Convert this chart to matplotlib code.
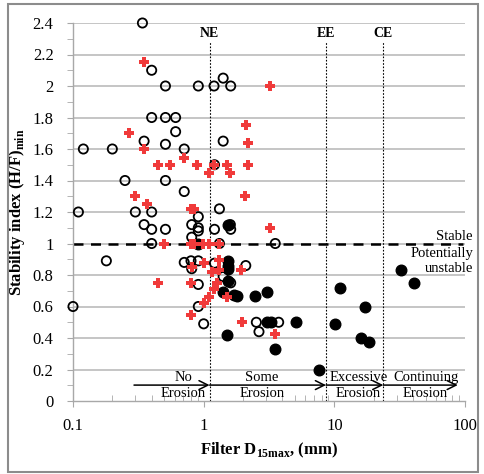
import matplotlib
matplotlib.use("Agg")
import matplotlib.pyplot as plt
from matplotlib.patches import Rectangle
from matplotlib.ticker import FixedLocator, LogLocator, NullFormatter, FuncFormatter

plt.rcParams['font.family'] = ['Liberation Serif', 'DejaVu Serif']
plt.rcParams['mathtext.fontset'] = 'custom'
plt.rcParams['mathtext.rm'] = 'Liberation Serif'
plt.rcParams['mathtext.bf'] = 'Liberation Serif:bold'

# ---- data ----
open_x = [0.34, 0.40, 0.51, 0.91, 1.20, 1.41, 1.61, 0.40, 0.51, 0.61, 0.61, 0.35, 1.41,
          0.12, 0.20, 0.51, 0.71, 1.21, 0.25, 0.51, 0.71, 0.11, 0.30, 0.40, 0.91, 1.32,
          0.35, 0.40, 0.51, 0.81, 0.91, 0.91, 1.21, 1.60, 1.61, 0.81, 0.40, 1.32, 3.53,
          0.18, 0.71, 0.80, 0.91, 0.81, 1.21, 2.10, 1.41, 1.61, 0.91, 0.10, 0.91, 1.00,
          2.53, 3.75, 2.65]
open_y = [2.40, 2.10, 2.00, 2.00, 2.00, 2.05, 2.00, 1.80, 1.80, 1.80, 1.71, 1.65, 1.65,
          1.60, 1.60, 1.63, 1.60, 1.50, 1.40, 1.40, 1.33, 1.20, 1.20, 1.20, 1.17, 1.22,
          1.12, 1.09, 1.09, 1.12, 1.10, 1.08, 1.09, 1.12, 1.09, 1.04, 1.00, 1.00, 1.00,
          0.89, 0.88, 0.89, 0.89, 0.84, 0.875, 0.86, 0.79, 0.75, 0.74, 0.60, 0.60, 0.49,
          0.50, 0.50, 0.44]

filled_x = [1.53, 0.91, 1.53, 1.53, 1.53, 1.53, 1.41, 1.71, 1.81, 2.45, 3.05, 3.05,
            3.27, 5.08, 1.52, 3.53, 7.62, 32.3, 40.5, 11.1, 17.2, 10.1, 16.1, 18.3]
filled_y = [1.12, 1.00, 0.89, 0.86, 0.84, 0.76, 0.695, 0.675, 0.667, 0.665, 0.69, 0.50,
            0.50, 0.50, 0.42, 0.33, 0.195, 0.83, 0.75, 0.72, 0.60, 0.49, 0.40, 0.375]

red_x = [0.35, 3.24, 2.10, 0.27, 2.19, 0.35, 0.71, 0.45, 0.55, 0.89, 1.20, 1.50, 2.19,
         1.10, 1.60, 2.09, 0.30, 0.37, 0.80, 0.85, 3.20, 0.50, 0.80, 0.85, 0.99, 1.10,
         1.30, 0.81, 1.00, 1.32, 1.15, 1.32, 1.93, 0.45, 0.80, 1.26, 1.20, 1.50, 1.10,
         1.00, 0.80, 1.95, 3.53]
red_y = [2.15, 2.00, 1.75, 1.70, 1.64, 1.60, 1.545, 1.50, 1.50, 1.50, 1.50, 1.50, 1.50,
         1.45, 1.45, 1.30, 1.30, 1.25, 1.22, 1.22, 1.10, 1.00, 1.00, 1.00, 1.00, 1.00,
         1.00, 0.85, 0.875, 0.897, 0.818, 0.83, 0.83, 0.75, 0.75, 0.75, 0.71, 0.663, 0.663,
         0.62, 0.545, 0.50, 0.425]

zone_names = ["NE", "EE", "CE"]
zone_x = [1.11, 8.63, 23.7]

arrow_starts = [0.293, 1.11, 8.63, 23.7]
arrow_ends = [1.11, 8.63, 23.7, 88.0]
arrow_top = ["No", "Some", "Excessive", "Continuing"]
arrow_bottom = ["Erosion", "Erosion", "Erosion", "Erosion"]
arrow_text_x = [0.70, 2.80, 15.3, 50.0]

y_ticks = [0, 0.2, 0.4, 0.6, 0.8, 1.0, 1.2, 1.4, 1.6, 1.8, 2.0, 2.2, 2.4]
x_ticks = [0.1, 1, 10, 100]

# ---- figure ----
fig = plt.figure(figsize=(4.84, 4.74), dpi=100)
ax = fig.add_axes([73/484, 1 - 401/474, 392/484, 378/474])

fig.patches.append(Rectangle((8/484, 2/474), 470/484, 468/474, transform=fig.transFigure,
                             fill=False, edgecolor='#8c8c8c', linewidth=1.5))

ax.set_xscale('log')
ax.set_xlim(0.1, 100)
ax.set_ylim(0, 2.4)

for yv in y_ticks[1:]:
    ax.axhline(yv, color='#b5b5b5', linewidth=1.1, zorder=0)

ax.axhline(1.0, xmin=0, xmax=0.995, color='black', linestyle=(0, (4, 3)), linewidth=1.8, zorder=1)

for name, xv in zip(zone_names, zone_x):
    ax.plot([xv, xv], [0, 2.285], color='black', linestyle=(0, (1.5, 1.5)), linewidth=0.8, zorder=1)
    ax.text(xv, 2.335, name, ha='center', va='center', fontsize=10, fontweight='bold')

ax.scatter(open_x, open_y, s=44, facecolors='none', edgecolors='black', linewidths=1.3,
           zorder=3, clip_on=False)
ax.scatter(filled_x, filled_y, s=58, color='black', zorder=4, clip_on=False)
ax.scatter(red_x, red_y, s=42, marker='P', color='#f03a3a', linewidths=0, zorder=5, clip_on=False)

for xs, xe, t1, t2, xt in zip(arrow_starts, arrow_ends, arrow_top, arrow_bottom, arrow_text_x):
    ax.annotate('', xy=(xe, 0.101), xytext=(xs, 0.101),
                arrowprops=dict(arrowstyle='->', color='black', lw=1.1,
                                mutation_scale=16, shrinkA=0, shrinkB=0), zorder=6)
    ax.text(xt, 0.152, t1, ha='center', va='center', fontsize=10.5)
    ax.text(xt, 0.046, t2, ha='center', va='center', fontsize=10.5)

ax.text(1.0204, 1.044, "Stable", transform=ax.get_yaxis_transform(), ha='right', va='center',
        fontsize=10.5, clip_on=False)
ax.text(1.0204, 0.937, "Potentially", transform=ax.get_yaxis_transform(), ha='right', va='center',
        fontsize=10.5, clip_on=False)
ax.text(1.0204, 0.842, "unstable", transform=ax.get_yaxis_transform(), ha='right', va='center',
        fontsize=10.5, clip_on=False)

for s in ['top', 'right']:
    ax.spines[s].set_visible(False)
for s in ['left', 'bottom']:
    ax.spines[s].set_color('#a8a8a8')
    ax.spines[s].set_linewidth(1.0)

ax.yaxis.set_major_locator(FixedLocator(y_ticks))
ax.yaxis.set_minor_locator(FixedLocator([v + 0.1 for v in y_ticks[:-1]]))
ax.yaxis.set_major_formatter(FuncFormatter(lambda v, p: f"{v:g}"))
ax.xaxis.set_major_locator(FixedLocator(x_ticks))
ax.xaxis.set_major_formatter(FuncFormatter(lambda v, p: f"{v:g}"))
ax.xaxis.set_minor_locator(LogLocator(base=10, subs=range(2, 10)))
ax.xaxis.set_minor_formatter(NullFormatter())

ax.tick_params(axis='y', which='both', direction='out', length=4, color='#a8a8a8',
               labelsize=12, pad=10)
ax.tick_params(axis='x', which='major', direction='out', length=4, color='#a8a8a8',
               labelsize=12, pad=8)
ax.tick_params(axis='x', which='minor', direction='in', length=4, color='#a8a8a8')

ax.set_xlabel(r"Filter D$_{\mathbf{15max}}$, (mm)", fontsize=12, fontweight='bold', labelpad=5)
ax.set_ylabel(r"Stability index (H/F)$_{\mathbf{min}}$", fontsize=12, fontweight='bold')
ax.yaxis.set_label_coords(-0.117, 0.5)

fig.savefig("out.png", dpi=100)
